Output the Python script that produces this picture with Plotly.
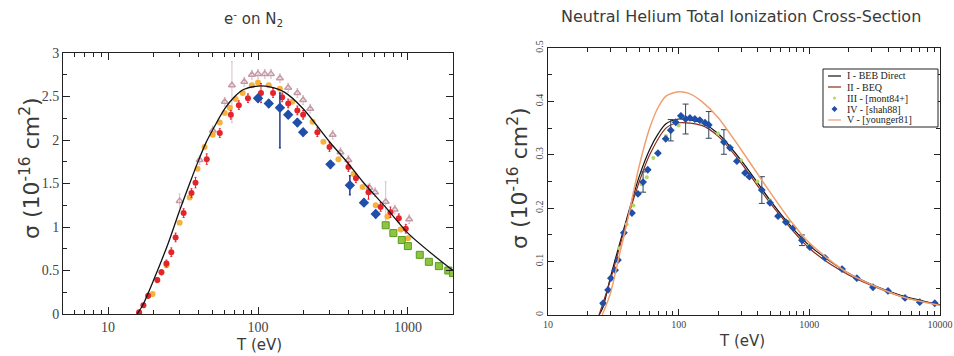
import plotly.graph_objects as go

# ---------------- Left panel: e- on N2 ----------------
n2_theory_T = [15.6, 17, 20, 25, 30, 35, 40, 45, 50, 60, 70, 80, 100, 120, 150, 200, 300, 400, 500, 700, 1000, 1500, 2000]
n2_theory_s = [0.0, 0.1, 0.38, 0.80, 1.19, 1.50, 1.76, 1.97, 2.12, 2.36, 2.50, 2.58, 2.62, 2.61, 2.55, 2.36, 1.98, 1.73, 1.52, 1.24, 0.93, 0.67, 0.50]

n2_red_T = [16.1, 17.2, 18.5, 21.3, 22.7, 24.5, 26.4, 28.2, 31.9, 36, 38.3, 45.5, 55.6, 65.9, 74.5, 85.7, 104.7, 126, 145, 159, 183, 200, 249, 300, 401, 450, 546, 658, 765, 870, 968]
n2_red_s = [0.02, 0.10, 0.21, 0.39, 0.48, 0.58, 0.71, 0.88, 1.16, 1.39, 1.51, 1.78, 2.08, 2.29, 2.40, 2.48, 2.54, 2.54, 2.49, 2.42, 2.34, 2.29, 2.09, 1.92, 1.69, 1.56, 1.40, 1.23, 1.17, 1.10, 0.98]
n2_red_err = [0.02, 0.02, 0.03, 0.03, 0.03, 0.04, 0.05, 0.05, 0.05, 0.05, 0.06, 0.06, 0.05, 0.05, 0.05, 0.05, 0.11, 0.05, 0.05, 0.05, 0.05, 0.05, 0.05, 0.05, 0.05, 0.05, 0.08, 0.05, 0.06, 0.05, 0.05]

n2_orange_T = [16.1, 19.8, 24.5, 30, 35, 39.5, 44, 49.9, 55.6, 60, 64.9, 71, 79, 91, 100, 118, 140, 169, 231, 273, 344, 434, 499, 610, 730, 895, 1000]
n2_orange_s = [0.01, 0.23, 0.56, 1.05, 1.34, 1.67, 1.92, 2.06, 2.20, 2.31, 2.37, 2.47, 2.54, 2.63, 2.66, 2.63, 2.59, 2.44, 2.21, 1.98, 1.78, 1.61, 1.46, 1.25, 1.12, 0.97, 0.87]

n2_pink_T = [30, 40.8, 50, 60, 67, 81, 91, 100, 111, 122, 140, 159, 183, 200, 223, 315, 355, 401, 555, 604, 711, 818, 1020]
n2_pink_s = [1.30, 1.77, 2.11, 2.44, 2.63, 2.67, 2.75, 2.76, 2.76, 2.76, 2.71, 2.60, 2.54, 2.46, 2.36, 2.06, 1.86, 1.77, 1.45, 1.40, 1.29, 1.20, 1.09]
n2_pink_err_up = [0.08, 0.05, 0.05, 0.05, 0.27, 0.05, 0.05, 0.05, 0.05, 0.05, 0.05, 0.05, 0.05, 0.05, 0.05, 0.05, 0.05, 0.05, 0.05, 0.05, 0.23, 0.05, 0.05]
n2_pink_err_dn = [0.08, 0.05, 0.05, 0.05, 0.43, 0.05, 0.05, 0.05, 0.05, 0.05, 0.05, 0.05, 0.05, 0.05, 0.05, 0.05, 0.05, 0.05, 0.05, 0.05, 0.27, 0.05, 0.05]

n2_blue_T = [100, 118, 140, 159, 183, 200, 304, 410, 509, 610]
n2_blue_s = [2.48, 2.42, 2.37, 2.29, 2.20, 2.09, 1.72, 1.48, 1.28, 1.15]
n2_blue_err_up = [0.04, 0.04, 0.17, 0.04, 0.04, 0.04, 0.04, 0.11, 0.04, 0.04]
n2_blue_err_dn = [0.04, 0.04, 0.46, 0.04, 0.04, 0.04, 0.04, 0.11, 0.04, 0.04]

n2_green_T = [711, 800, 910, 1000, 1200, 1380, 1610, 1860, 2000]
n2_green_s = [1.02, 0.93, 0.85, 0.78, 0.68, 0.60, 0.55, 0.50, 0.47]

# ---------------- Right panel: neutral helium ----------------
he_beb_T = [24.6, 26.4, 30, 35, 40, 50, 60, 70, 80, 100, 120, 150, 200, 300, 500, 700, 1000, 2000, 3000, 5000, 10000]
he_beb_s = [0.0, 0.015, 0.07, 0.13, 0.18, 0.26, 0.31, 0.34, 0.358, 0.367, 0.366, 0.36, 0.34, 0.29, 0.215, 0.17, 0.13, 0.078, 0.057, 0.037, 0.019]

he_beq_T = [24.6, 30, 40, 50, 60, 80, 100, 150, 200, 300, 500, 1000, 2000, 5000, 10000]
he_beq_s = [0.0, 0.065, 0.175, 0.25, 0.30, 0.35, 0.36, 0.355, 0.335, 0.285, 0.21, 0.125, 0.075, 0.035, 0.019]

he_mont_T = [26, 30, 35, 40, 45, 52, 57, 64, 80, 100, 150, 200, 300, 400, 500, 700, 1000]
he_mont_s = [0.02, 0.07, 0.125, 0.17, 0.205, 0.245, 0.258, 0.294, 0.335, 0.355, 0.36, 0.34, 0.29, 0.25, 0.215, 0.175, 0.13]

he_shah_T = [26.4, 28.8, 30.3, 32.6, 34.3, 38.1, 43.9, 48.8, 53.4, 58, 69.4, 79.6, 87, 95, 104, 113, 122, 133, 145, 159, 170,
             222, 247, 279, 322, 348, 433, 500, 576, 661, 754, 878, 1010, 1318, 1780, 2310, 3070, 4000, 5400, 7000, 9120]
he_shah_s = [0.022, 0.047, 0.069, 0.084, 0.103, 0.154, 0.191, 0.227, 0.249, 0.272, 0.303, 0.33, 0.346, 0.361, 0.373, 0.367, 0.369, 0.367, 0.365, 0.36, 0.356,
             0.324, 0.313, 0.288, 0.266, 0.259, 0.234, 0.21, 0.185, 0.174, 0.163, 0.14, 0.127, 0.107, 0.086, 0.069, 0.052, 0.045, 0.032, 0.024, 0.022]
he_shah_err = [0, 0, 0, 0, 0, 0, 0, 0, 0.019, 0, 0, 0, 0.02, 0, 0, 0.028, 0, 0, 0, 0, 0.025,
               0.023, 0, 0, 0, 0, 0.025, 0, 0, 0, 0, 0.01, 0, 0, 0, 0, 0, 0, 0, 0, 0]

he_young_T = [26, 30, 35, 40, 50, 60, 70, 80, 100, 120, 150, 200, 300, 500, 700, 1000, 2000, 5000, 10000]
he_young_s = [0.0, 0.04, 0.11, 0.17, 0.28, 0.35, 0.39, 0.41, 0.418, 0.415, 0.40, 0.37, 0.31, 0.23, 0.18, 0.135, 0.078, 0.035, 0.018]

legend_names = ["I - BEB Direct", "II - BEQ", "III - [mont84+]", "IV - [shah88]", "V - [younger81]"]

SERIF = "Liberation Serif"
SANS = "DejaVu Sans"
TXT = "#3a3a3a"
W, H = 954, 356

C_BEB, C_BEQ, C_MONT, C_SHAH, C_YOUNG = "#111111", "#8a2a1c", "#b4d46c", "#1f4fa8", "#f0a070"

fig = go.Figure()

# left panel traces
fig.add_trace(go.Scatter(x=n2_pink_T, y=n2_pink_s, mode="markers", xaxis="x", yaxis="y", showlegend=False,
                         marker=dict(symbol="triangle-up-open", size=6, color="#c49aa6", line=dict(width=1.5)),
                         error_y=dict(type="data", array=n2_pink_err_up, arrayminus=n2_pink_err_dn,
                                      color="#d8c0c8", thickness=1, width=1)))
fig.add_trace(go.Scatter(x=n2_orange_T, y=n2_orange_s, mode="markers", xaxis="x", yaxis="y", showlegend=False,
                         marker=dict(symbol="circle", size=6, color="#f6b23c", line=dict(width=0))))
fig.add_trace(go.Scatter(x=n2_red_T, y=n2_red_s, mode="markers", xaxis="x", yaxis="y", showlegend=False,
                         marker=dict(symbol="circle", size=6, color="#e3242b", line=dict(width=0)),
                         error_y=dict(type="data", array=n2_red_err, color="#e3242b", thickness=1, width=1)))
fig.add_trace(go.Scatter(x=n2_blue_T, y=n2_blue_s, mode="markers", xaxis="x", yaxis="y", showlegend=False,
                         marker=dict(symbol="diamond", size=8, color="#1f4fa8", line=dict(width=0)),
                         error_y=dict(type="data", array=n2_blue_err_up, arrayminus=n2_blue_err_dn,
                                      color="#2a3a90", thickness=1.5, width=1)))
fig.add_trace(go.Scatter(x=n2_green_T, y=n2_green_s, mode="markers", xaxis="x", yaxis="y", showlegend=False,
                         marker=dict(symbol="square", size=7, color="#8cc63f", line=dict(width=1, color="#5a9a20"))))
fig.add_trace(go.Scatter(x=n2_theory_T, y=n2_theory_s, mode="lines", xaxis="x", yaxis="y", showlegend=False,
                         line=dict(color="#111111", width=1.3, shape="spline", smoothing=0.8)))

# right panel traces
fig.add_trace(go.Scatter(x=he_beb_T, y=he_beb_s, mode="lines", xaxis="x2", yaxis="y2", name=legend_names[0],
                         showlegend=False, line=dict(color=C_BEB, width=1.2, shape="spline", smoothing=0.8)))
fig.add_trace(go.Scatter(x=he_beq_T, y=he_beq_s, mode="lines", xaxis="x2", yaxis="y2", name=legend_names[1],
                         showlegend=False, line=dict(color=C_BEQ, width=1.2, shape="spline", smoothing=0.8)))
fig.add_trace(go.Scatter(x=he_mont_T, y=he_mont_s, mode="markers", xaxis="x2", yaxis="y2", name=legend_names[2],
                         showlegend=False, marker=dict(symbol="circle", size=4, color=C_MONT)))
fig.add_trace(go.Scatter(x=he_shah_T, y=he_shah_s, mode="markers", xaxis="x2", yaxis="y2", name=legend_names[3],
                         showlegend=False, marker=dict(symbol="diamond", size=6, color=C_SHAH),
                         error_y=dict(type="data", array=he_shah_err, color="#334455", thickness=1, width=3)))
fig.add_trace(go.Scatter(x=he_young_T, y=he_young_s, mode="lines", xaxis="x2", yaxis="y2", name=legend_names[4],
                         showlegend=False, line=dict(color=C_YOUNG, width=1.5, shape="spline", smoothing=0.8)))


def log_minor(decades, lo, hi):
    vals = []
    for d in decades:
        for m in range(2, 10):
            v = m * d
            if lo <= v <= hi:
                vals.append(v)
    return vals


def px(x):
    return x / W


def py(y):
    return 1 - y / H


axis_common = dict(showline=True, linecolor="#222222", linewidth=1, mirror="allticks", automargin=False,
                   ticks="inside", tickcolor="#222222", showgrid=False, zeroline=False)

# compact boxed legend for the helium panel
leg_x0, leg_x1, leg_y0, leg_y1 = 823, 938, 69, 127
row_y = [76, 87, 98, 109, 120]
shapes = [dict(type="rect", xref="paper", yref="paper", x0=px(leg_x0), x1=px(leg_x1), y0=py(leg_y1), y1=py(leg_y0),
               line=dict(color="#222222", width=1), fillcolor="white", layer="above")]
annotations = []
for i, name in enumerate(legend_names):
    yy = row_y[i]
    if i in (0, 1, 4):
        col = [C_BEB, C_BEQ, None, None, C_YOUNG][i]
        shapes.append(dict(type="line", xref="paper", yref="paper", x0=px(828), x1=px(841), y0=py(yy), y1=py(yy),
                           line=dict(color=col, width=1.2), layer="above"))
    elif i == 2:
        shapes.append(dict(type="circle", xref="paper", yref="paper", x0=px(833), x1=px(836), y0=py(yy + 1.5),
                           y1=py(yy - 1.5), line=dict(width=0), fillcolor=C_MONT, layer="above"))
    else:
        path = "M {a},{b} L {c},{d} L {a},{e} L {f},{d} Z".format(
            a=px(834.5), b=py(yy - 3), c=px(837.5), d=py(yy), e=py(yy + 3), f=px(831.5))
        shapes.append(dict(type="path", xref="paper", yref="paper", path=path,
                           line=dict(width=0), fillcolor=C_SHAH, layer="above"))
    annotations.append(dict(text=name, x=px(845), y=py(yy), xref="paper", yref="paper", xanchor="left",
                            yanchor="middle", showarrow=False, font=dict(family=SERIF, size=10, color="#222222")))

annotations += [
    dict(text="e<sup>-</sup> on N<sub>2</sub>", x=px(254), y=py(19), xanchor="center", yanchor="middle",
         font=dict(family=SANS, size=15, color=TXT)),
    dict(text="Neutral Helium Total Ionization Cross-Section", x=px(741), y=py(17), xanchor="center", yanchor="middle",
         font=dict(family=SANS, size=16, color=TXT)),
    dict(text="σ (10<sup>-16</sup> cm<sup>2</sup>)", x=px(30), y=py(168), xanchor="center", yanchor="middle",
         textangle=-90, font=dict(family=SANS, size=22, color=TXT)),
    dict(text="σ (10<sup>-16</sup> cm<sup>2</sup>)", x=px(518), y=py(178), xanchor="center", yanchor="middle",
         textangle=-90, font=dict(family=SANS, size=22, color=TXT)),
    dict(text="T (eV)", x=px(259), y=py(345), xanchor="center", yanchor="middle",
         font=dict(family=SANS, size=15, color=TXT)),
    dict(text="T (eV)", x=px(742), y=py(341), xanchor="center", yanchor="middle",
         font=dict(family=SANS, size=15, color=TXT)),
]
for a in annotations[len(legend_names):]:
    a.update(xref="paper", yref="paper", showarrow=False)

fig.update_layout(
    width=W, height=H, autosize=False,
    margin=dict(l=0, r=0, t=0, b=0),
    paper_bgcolor="white", plot_bgcolor="white",
    showlegend=False,
    xaxis=dict(axis_common, domain=[px(63), px(453)], type="log", range=[0.699, 3.301],
               tickvals=[10, 100, 1000], ticktext=["10", "100", "1000"], ticklen=7,
               tickfont=dict(family=SERIF, size=14, color="#444444"),
               minor=dict(ticks="inside", ticklen=4, tickcolor="#222222",
                          tickvals=log_minor([1, 10, 100, 1000], 5, 2000)),
               anchor="y"),
    yaxis=dict(axis_common, domain=[py(314), py(53)], range=[0, 3], dtick=0.5, ticklen=7,
               tickfont=dict(family=SERIF, size=14, color="#444444"),
               minor=dict(ticks="inside", ticklen=4, tickcolor="#222222", dtick=0.25),
               anchor="x"),
    xaxis2=dict(axis_common, domain=[px(548), px(940)], type="log", range=[1, 4],
                tickvals=[10, 100, 1000, 10000], ticktext=["10", "100", "1000", "10000"], ticklen=6,
                tickfont=dict(family=SERIF, size=10, color="#444444"),
                minor=dict(ticks="inside", ticklen=4, tickcolor="#222222",
                           tickvals=log_minor([10, 100, 1000], 10, 10000)),
                anchor="y2"),
    yaxis2=dict(axis_common, domain=[py(315), py(48)], range=[0, 0.5], dtick=0.1, ticklen=6,
                tickangle=-90, tickformat=".1~f",
                tickfont=dict(family=SERIF, size=10, color="#444444"),
                minor=dict(ticks="inside", ticklen=4, tickcolor="#222222", dtick=0.05),
                anchor="x2"),
    shapes=shapes,
    annotations=annotations,
)

fig.write_html("out.html")
